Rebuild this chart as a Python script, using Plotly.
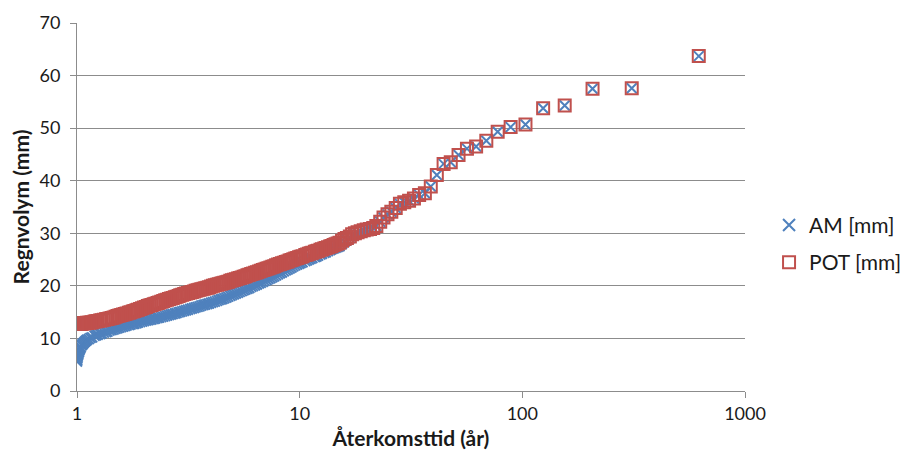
import plotly.graph_objects as go

# Return periods (years) for the discrete high-rank events
T_top = [620, 310, 206.7, 155, 124, 103.3, 88.6, 77.5, 68.9, 62.0, 56.4, 51.7, 47.7, 44.3,
         41.3, 38.8, 36.5, 34.4, 32.6, 31.0, 29.5, 28.2, 27.0, 25.8, 24.8, 23.8, 23.0, 22.1,
         21.4, 20.7, 20.0, 19.4, 18.8, 18.2, 17.7, 17.2, 16.8, 16.3, 15.9, 15.5]
POT_top = [63.7, 57.6, 57.5, 54.3, 53.8, 50.7, 50.2, 49.3, 47.6, 46.5, 46.1, 44.9, 43.5, 43.2,
           41.1, 38.9, 37.6, 37.3, 36.6, 36.2, 35.9, 35.6, 34.8, 34.1, 33.6, 33.0, 32.2, 31.4,
           31.0, 30.8, 30.7, 30.6, 30.4, 30.2, 30.0, 29.8, 29.4, 29.1, 28.9, 28.6]
AM_top = [63.7, 57.6, 57.5, 54.3, 53.8, 50.7, 50.2, 49.3, 47.6, 46.5, 46.1, 44.9, 43.5, 43.2,
          41.1, 38.9, 37.6, 37.3, 36.6, 36.2, 35.9, 35.6, 34.8, 34.1, 33.6, 33.0, 32.2, 31.4,
          31.0, 30.8, 30.7, 30.6, 30.4, 30.1, 29.8, 29.5, 29.1, 28.7, 28.4, 28.0]

# Dense low-return-period region
T_low = [15.1, 14.8, 14.5, 14.2, 13.9, 13.7, 13.4, 13.1, 12.9, 12.6, 12.4, 12.1, 11.9, 11.7,
         11.4, 11.2, 11.0, 10.8, 10.6, 10.3, 10.1, 9.94, 9.75, 9.56, 9.37, 9.19, 9.01, 8.83,
         8.66, 8.49, 8.32, 8.16, 8.00, 7.84, 7.69, 7.54, 7.39, 7.24, 7.10, 6.96, 6.83, 6.69,
         6.56, 6.43, 6.31, 6.18, 6.06, 5.94, 5.83, 5.71, 5.60, 5.49, 5.38, 5.28, 5.17, 5.07,
         4.97, 4.88, 4.78, 4.69, 4.59, 4.50, 4.42, 4.33, 4.25, 4.16, 4.08, 4.00, 3.92, 3.85,
         3.77, 3.70, 3.62, 3.55, 3.48, 3.41, 3.35, 3.28, 3.22, 3.15, 3.09, 3.03, 2.97, 2.91,
         2.86, 2.80, 2.75, 2.69, 2.64, 2.59, 2.54, 2.49, 2.44, 2.39, 2.34, 2.30, 2.25, 2.21,
         2.16, 2.12, 2.08, 2.04, 2.00, 1.96, 1.92, 1.88, 1.85, 1.81, 1.78, 1.74, 1.71, 1.67,
         1.64, 1.61, 1.58, 1.55, 1.52, 1.49, 1.46, 1.43, 1.40, 1.37, 1.35, 1.32, 1.29, 1.27,
         1.24, 1.22, 1.20, 1.17, 1.15, 1.13, 1.11, 1.10, 1.09, 1.08, 1.07, 1.06, 1.05, 1.04,
         1.035, 1.03, 1.025, 1.02, 1.015, 1.01, 1.007, 1.004, 1.002, 1.00]
POT_low = [28.2, 28.05, 27.9, 27.75, 27.6, 27.5, 27.35, 27.2, 27.1, 26.95, 26.85, 26.7, 26.6, 26.5,
           26.3, 26.2, 26.1, 25.95, 25.85, 25.65, 25.55, 25.45, 25.3, 25.2, 25.05, 24.9, 24.8, 24.65,
           24.55, 24.4, 24.3, 24.15, 24.05, 23.9, 23.75, 23.65, 23.5, 23.35, 23.25, 23.1, 23.0, 22.85,
           22.75, 22.6, 22.5, 22.35, 22.25, 22.1, 22.0, 21.85, 21.75, 21.6, 21.5, 21.4, 21.25, 21.15,
           21.05, 20.95, 20.8, 20.7, 20.6, 20.5, 20.4, 20.3, 20.2, 20.1, 20.0, 19.9, 19.75, 19.65,
           19.55, 19.45, 19.35, 19.25, 19.15, 19.05, 18.95, 18.85, 18.75, 18.65, 18.55, 18.45, 18.3, 18.2,
           18.05, 17.95, 17.85, 17.7, 17.6, 17.5, 17.35, 17.25, 17.1, 17.0, 16.85, 16.75, 16.6, 16.5,
           16.35, 16.25, 16.15, 16.0, 15.9, 15.75, 15.6, 15.45, 15.35, 15.2, 15.1, 15.0, 14.9, 14.75,
           14.65, 14.55, 14.45, 14.35, 14.25, 14.1, 14.0, 13.9, 13.8, 13.7, 13.65, 13.55, 13.45, 13.4,
           13.3, 13.25, 13.2, 13.1, 13.05, 13.0, 12.98, 12.95, 12.93, 12.9, 12.88, 12.85, 12.83, 12.8,
           12.8, 12.8, 12.8, 12.8, 12.8, 12.8, 12.8, 12.8, 12.8, 12.8]
AM_low = [27.55, 27.4, 27.25, 27.1, 26.95, 26.8, 26.6, 26.4, 26.3, 26.1, 25.95, 25.75, 25.6, 25.5,
          25.3, 25.15, 25.0, 24.85, 24.7, 24.5, 24.35, 24.2, 24.05, 23.9, 23.7, 23.5, 23.3, 23.1,
          22.95, 22.75, 22.55, 22.4, 22.2, 22.0, 21.8, 21.65, 21.45, 21.3, 21.1, 20.95, 20.75, 20.6,
          20.45, 20.25, 20.1, 19.95, 19.8, 19.6, 19.45, 19.3, 19.15, 19.0, 18.85, 18.7, 18.55, 18.4,
          18.25, 18.1, 17.95, 17.8, 17.65, 17.5, 17.4, 17.3, 17.15, 17.0, 16.9, 16.8, 16.65, 16.55,
          16.45, 16.35, 16.25, 16.1, 16.0, 15.9, 15.8, 15.7, 15.6, 15.45, 15.35, 15.25, 15.15, 15.05,
          14.95, 14.85, 14.75, 14.65, 14.55, 14.45, 14.35, 14.25, 14.15, 14.05, 13.95, 13.9, 13.8, 13.7,
          13.6, 13.55, 13.45, 13.4, 13.3, 13.2, 13.1, 13.0, 12.9, 12.8, 12.75, 12.65, 12.55, 12.45,
          12.35, 12.25, 12.15, 12.05, 11.95, 11.85, 11.7, 11.6, 11.5, 11.3, 11.2, 11.1, 10.95, 10.85,
          10.7, 10.6, 10.5, 10.2, 10.1, 9.9, 9.75, 9.6, 9.45, 9.3, 9.1, 8.9, 8.7, 8.4,
          8.2, 8.0, 7.7, 7.4, 7.1, 6.8, 6.5, 6.2, 5.9, 5.6]

x_ticks = [1, 10, 100, 1000]
x_tick_labels = ["1", "10", "100", "1000"]

T_all = T_top + T_low
AM_all = AM_top + AM_low
POT_all = POT_top + POT_low

BLUE = "#4F81BD"
RED = "#C0504D"
GRID = "#8C8C8C"
FONT = "Lato, 'Open Sans', sans-serif"
TXT = "#1a1a1a"

fig = go.Figure()
fig.add_trace(go.Scatter(
    x=T_all, y=AM_all, mode="markers", name="AM [mm]", legendgroup="a",
    marker=dict(symbol="x-thin", size=10, color=BLUE, line=dict(color=BLUE, width=2)),
))
fig.add_trace(go.Scatter(
    x=T_all, y=POT_all, mode="markers", name="POT [mm]", legendgroup="b",
    marker=dict(symbol="square-open", size=12, color=RED, line=dict(color=RED, width=2)),
))

fig.update_layout(
    width=909, height=460,
    margin=dict(l=69, r=172, t=15, b=77, autoexpand=False),
    paper_bgcolor="white", plot_bgcolor="white",
    font=dict(family=FONT, size=18, color=TXT),
    showlegend=True,
    legend=dict(x=1.036, xanchor="left", y=0.40, yanchor="middle",
                font=dict(size=21, color=TXT), tracegroupgap=7,
                bgcolor="rgba(0,0,0,0)", itemsizing="constant"),
    xaxis=dict(
        type="log", range=[0, 3], tickvals=x_ticks, ticktext=x_tick_labels,
        showgrid=False, showline=True, linecolor=GRID, linewidth=1,
        ticks="outside", ticklen=6, tickcolor=GRID, automargin=False,
        tickfont=dict(size=18, color=TXT), zeroline=False,
        title=dict(text="<b>Återkomsttid (år)</b>", font=dict(size=21, color=TXT), standoff=8),
    ),
    yaxis=dict(
        range=[0, 70], dtick=10, showgrid=True, gridcolor=GRID, gridwidth=1,
        showline=True, linecolor=GRID, linewidth=1, zeroline=False, automargin=False,
        ticks="outside", ticklen=6, tickcolor=GRID, ticklabelstandoff=6,
        tickfont=dict(size=18, color=TXT),
        title=dict(text="<b>Regnvolym (mm)</b>", font=dict(size=21, color=TXT), standoff=10),
    ),
)

fig.write_html("out.html")
